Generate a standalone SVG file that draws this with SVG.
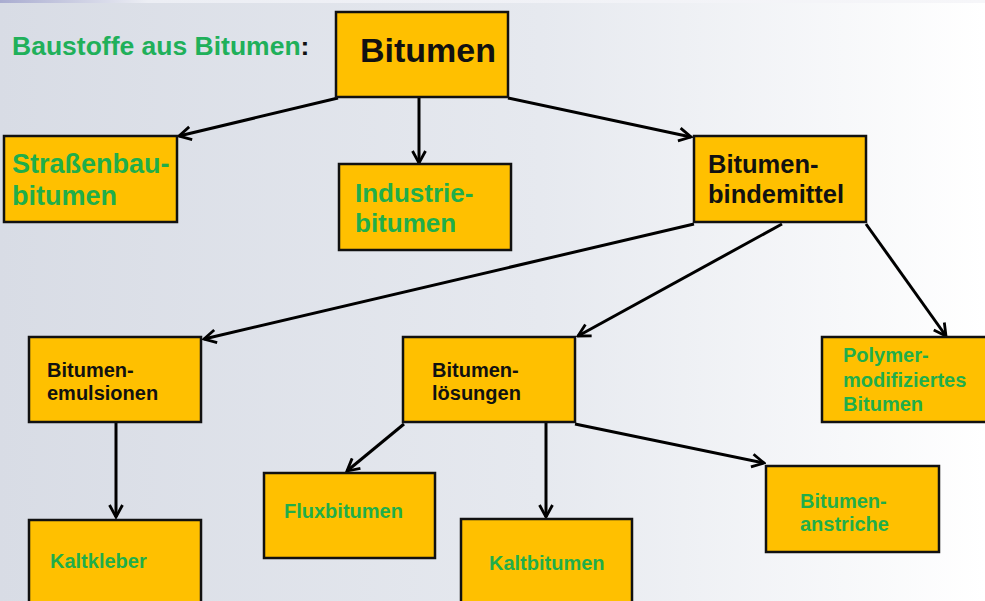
<svg xmlns="http://www.w3.org/2000/svg" width="985" height="601" viewBox="0 0 985 601">
<defs>
<linearGradient id="bg" x1="0" y1="0" x2="1" y2="0">
<stop offset="0" stop-color="#d8dce5"/>
<stop offset="0.55" stop-color="#e6e9ef"/>
<stop offset="1" stop-color="#ffffff"/>
</linearGradient>
<linearGradient id="topbar" x1="0" y1="0" x2="1" y2="0">
<stop offset="0" stop-color="#a9acd0"/>
<stop offset="0.15" stop-color="#eceef4"/>
<stop offset="1" stop-color="#f6f6f9"/>
</linearGradient>
<marker id="arr" viewBox="0 0 16 16" refX="14" refY="8" markerWidth="16" markerHeight="16" markerUnits="userSpaceOnUse" orient="auto">
<path d="M2,1.5 L14,8 L2,14.5" fill="none" stroke="#000" stroke-width="2.8" stroke-linejoin="miter"/>
</marker>
</defs>
<style>
.box{fill:#ffc000;stroke:#111;stroke-width:2.5}
.t{font-family:"Liberation Sans",Arial,sans-serif;font-weight:bold}
.g{fill:#1fae4a}
.k{fill:#111}
.c line{stroke:#000;stroke-width:3;marker-end:url(#arr)}
</style>
<rect width="985" height="601" fill="url(#bg)"/>
<rect width="985" height="3" fill="url(#topbar)"/>
<text class="t" x="12" y="55" font-size="26.5"><tspan fill="#20b05a">Baustoffe aus Bitumen</tspan><tspan class="k">:</tspan></text>
<g class="c" id="connectors">
<line x1="338" y1="98" x2="179" y2="136"/>
<line x1="419" y1="98" x2="419" y2="163"/>
<line x1="508" y1="98" x2="691" y2="137"/>
<line x1="694" y1="224" x2="204" y2="339"/>
<line x1="782" y1="224" x2="578" y2="336"/>
<line x1="866" y1="224" x2="946" y2="336"/>
<line x1="116" y1="423" x2="116" y2="517"/>
<line x1="404" y1="424" x2="347" y2="471"/>
<line x1="546" y1="423" x2="546" y2="517"/>
<line x1="575" y1="424" x2="764" y2="463"/>
</g>
<g id="n-bitumen"><rect class="box" x="336" y="12" width="172" height="85"/><text class="t k" x="428" y="62" font-size="34" text-anchor="middle">Bitumen</text></g>
<g id="n-strassenbau"><rect class="box" x="4" y="136" width="173" height="86"/><text class="t g" font-size="27"><tspan x="12" y="173">Straßenbau-</tspan><tspan x="12" y="205">bitumen</tspan></text></g>
<g id="n-industrie"><rect class="box" x="339" y="164" width="172" height="86"/><text class="t g" font-size="26"><tspan x="355" y="202">Industrie-</tspan><tspan x="355" y="232">bitumen</tspan></text></g>
<g id="n-bindemittel"><rect class="box" x="694" y="136" width="172" height="86"/><text class="t k" font-size="25.5"><tspan x="708" y="173">Bitumen-</tspan><tspan x="708" y="203">bindemittel</tspan></text></g>
<g id="n-emulsionen"><rect class="box" x="29" y="337" width="172" height="85"/><text class="t k" font-size="20"><tspan x="47" y="377">Bitumen-</tspan><tspan x="47" y="400">emulsionen</tspan></text></g>
<g id="n-loesungen"><rect class="box" x="403" y="337" width="172" height="85"/><text class="t k" font-size="20"><tspan x="432" y="377">Bitumen-</tspan><tspan x="432" y="400">lösungen</tspan></text></g>
<g id="n-polymer"><rect class="box" x="822" y="337" width="170" height="85"/><text class="t g" font-size="20"><tspan x="843" y="362">Polymer-</tspan><tspan x="843" y="387">modifiziertes</tspan><tspan x="843" y="411">Bitumen</tspan></text></g>
<g id="n-flux"><rect class="box" x="264" y="473" width="171" height="85"/><text class="t g" x="284" y="518" font-size="20">Fluxbitumen</text></g>
<g id="n-kaltbitumen"><rect class="box" x="461" y="519" width="171" height="90"/><text class="t g" x="489" y="570" font-size="20">Kaltbitumen</text></g>
<g id="n-anstriche"><rect class="box" x="766" y="466" width="173" height="86"/><text class="t g" font-size="20"><tspan x="800" y="508">Bitumen-</tspan><tspan x="800" y="531">anstriche</tspan></text></g>
<g id="n-kaltkleber"><rect class="box" x="29" y="520" width="172" height="90"/><text class="t g" x="50" y="568" font-size="20">Kaltkleber</text></g>
</svg>
